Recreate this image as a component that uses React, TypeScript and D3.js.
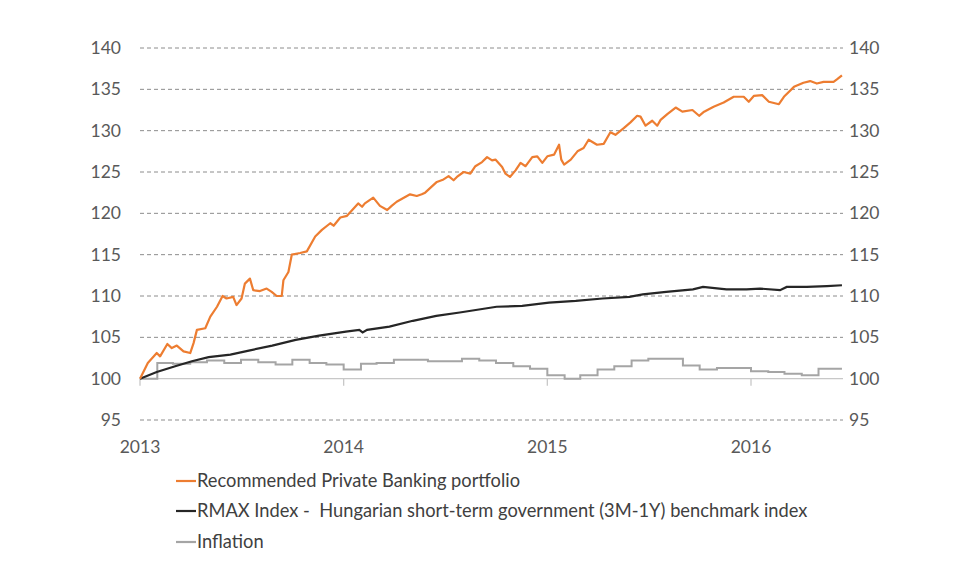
import React from "react";
import * as d3 from "d3";

const yTicks = [95, 100, 105, 110, 115, 120, 125, 130, 135, 140];
const yearTicks = ["2013-01-01", "2014-01-01", "2015-01-01", "2016-01-01"];
const yearLabels = ["2013", "2014", "2015", "2016"];

const seriesNames = [
  "Recommended Private Banking portfolio",
  "RMAX Index -  Hungarian short-term government (3M-1Y) benchmark index",
  "Inflation",
];

const portfolioDates = [
  "2013-01-01","2013-01-15","2013-01-31","2013-02-06","2013-02-19","2013-02-27","2013-03-08","2013-03-20",
  "2013-04-01","2013-04-07","2013-04-13","2013-04-28","2013-05-07","2013-05-19","2013-05-29","2013-06-05",
  "2013-06-17","2013-06-23","2013-07-02","2013-07-08","2013-07-17","2013-07-23","2013-08-04","2013-08-16",
  "2013-08-25","2013-09-03","2013-09-12","2013-09-15","2013-09-24","2013-09-30","2013-10-15","2013-10-27",
  "2013-11-11","2013-11-23","2013-12-08","2013-12-14","2013-12-26","2014-01-07","2014-01-27","2014-02-03",
  "2014-02-08","2014-02-23","2014-03-07","2014-03-20","2014-03-28","2014-04-06","2014-04-30","2014-05-12",
  "2014-05-21","2014-05-27","2014-06-17","2014-06-29","2014-07-08","2014-07-17","2014-07-23","2014-08-04",
  "2014-08-16","2014-08-25","2014-09-06","2014-09-15","2014-09-24","2014-09-30","2014-10-12","2014-10-18",
  "2014-10-26","2014-11-05","2014-11-14","2014-11-23","2014-12-05","2014-12-14","2014-12-23","2015-01-01",
  "2015-01-13","2015-01-22","2015-01-26","2015-01-31","2015-02-12","2015-02-24","2015-03-07","2015-03-16",
  "2015-03-31","2015-04-12","2015-04-24","2015-05-03","2015-05-18","2015-05-30","2015-06-11","2015-06-17",
  "2015-06-26","2015-07-08","2015-07-17","2015-07-23","2015-08-04","2015-08-19","2015-08-31","2015-09-18",
  "2015-09-30","2015-10-09","2015-10-26","2015-11-13","2015-12-01","2015-12-19","2015-12-28","2016-01-06",
  "2016-01-21","2016-02-02","2016-02-20","2016-02-29","2016-03-18","2016-04-04","2016-04-16","2016-04-28",
  "2016-05-10","2016-05-28","2016-06-03","2016-06-12",
];
const portfolioValues = [
  100.0, 101.9, 103.1, 102.7, 104.2, 103.7, 104.0, 103.3,
  103.1, 104.3, 105.9, 106.1, 107.5, 108.7, 110.0, 109.7,
  109.9, 108.9, 109.7, 111.5, 112.1, 110.7, 110.6, 110.9,
  110.5, 110.0, 110.0, 111.9, 112.9, 115.0, 115.2, 115.4,
  117.2, 118.0, 118.8, 118.5, 119.5, 119.7, 121.2, 120.8,
  121.2, 121.9, 120.9, 120.4, 120.9, 121.4, 122.3, 122.1,
  122.3, 122.5, 123.8, 124.1, 124.5, 124.0, 124.4, 125.0,
  124.8, 125.7, 126.2, 126.8, 126.4, 126.5, 125.6, 124.8,
  124.4, 125.2, 126.1, 125.7, 126.8, 126.9, 126.1, 126.9,
  127.1, 128.3, 126.5, 125.9, 126.5, 127.5, 127.9, 128.9,
  128.3, 128.4, 129.8, 129.5, 130.3, 131.0, 131.8, 131.7,
  130.6, 131.2, 130.6, 131.3, 132.0, 132.8, 132.3, 132.5,
  131.8, 132.3, 132.9, 133.4, 134.1, 134.1, 133.5, 134.2,
  134.3, 133.5, 133.2, 134.1, 135.3, 135.8, 136.0, 135.7,
  135.9, 135.9, 136.2, 136.7,
];

const rmaxDates = [
  "2013-01-01","2013-01-31","2013-03-05","2013-04-04","2013-05-04","2013-06-12","2013-07-15","2013-08-26",
  "2013-10-07","2013-11-18","2014-01-05","2014-01-29","2014-02-04","2014-02-12","2014-03-24","2014-05-05",
  "2014-06-16","2014-07-28","2014-10-02","2014-11-17","2015-01-04","2015-02-21","2015-04-10","2015-05-28",
  "2015-06-21","2015-08-02","2015-09-19","2015-10-07","2015-11-18","2015-12-24","2016-01-17","2016-02-22",
  "2016-03-05","2016-04-10","2016-05-16","2016-06-12",
];
const rmaxValues = [
  100.0, 100.8, 101.5, 102.1, 102.6, 102.9, 103.4, 104.0,
  104.7, 105.2, 105.7, 105.9, 105.6, 105.9, 106.3, 107.0,
  107.6, 108.0, 108.7, 108.8, 109.2, 109.4, 109.7, 109.9,
  110.2, 110.5, 110.8, 111.1, 110.8, 110.8, 110.9, 110.7,
  111.1, 111.1, 111.2, 111.3,
];

const inflationDates = [
  "2013-01-01","2013-02-01","2013-03-01","2013-04-01","2013-05-01","2013-06-01","2013-07-01","2013-08-01",
  "2013-09-01","2013-10-01","2013-11-01","2013-12-01","2014-01-01","2014-02-01","2014-03-01","2014-04-01",
  "2014-05-01","2014-06-01","2014-07-01","2014-08-01","2014-09-01","2014-10-01","2014-11-01","2014-12-01",
  "2015-01-01","2015-02-01","2015-03-01","2015-04-01","2015-05-01","2015-06-01","2015-07-01","2015-08-01",
  "2015-09-01","2015-10-01","2015-11-01","2015-12-01","2016-01-01","2016-02-01","2016-03-01","2016-04-01",
  "2016-05-01","2016-06-12",
];
const inflationValues = [
  100.0, 101.9, 101.8, 102.0, 102.2, 101.9, 102.3, 102.0,
  101.7, 102.3, 101.9, 101.7, 101.1, 101.8, 101.9, 102.3,
  102.3, 102.1, 102.1, 102.4, 102.2, 101.9, 101.5, 101.2,
  100.4, 100.0, 100.4, 101.1, 101.5, 102.2, 102.4, 102.4,
  101.6, 101.1, 101.3, 101.3, 100.9, 100.8, 100.6, 100.4,
  101.2, 101.2,
];

const FONT = "Lato, 'Open Sans', sans-serif";
const TEXT = "#595959";

type Pt = { d: Date; v: number };
const toPts = (ds: string[], vs: number[]): Pt[] =>
  ds.map((s, i) => ({ d: new Date(s + "T00:00:00Z"), v: vs[i] }));

export default function App() {
  const W = 977, H = 574;
  const left = 140, right = 843;
  const x = d3
    .scaleUtc()
    .domain([new Date("2013-01-01T00:00:00Z"), new Date("2016-01-01T00:00:00Z")])
    .range([140, 751]);
  const y = d3.scaleLinear().domain([95, 140]).range([420, 48]);

  const line = d3
    .line<Pt>()
    .x((p) => x(p.d))
    .y((p) => y(p.v));
  const stepLine = d3
    .line<Pt>()
    .x((p) => x(p.d))
    .y((p) => y(p.v))
    .curve(d3.curveStepAfter);

  const pf = toPts(portfolioDates, portfolioValues);
  const rm = toPts(rmaxDates, rmaxValues);
  const inf = toPts(inflationDates, inflationValues);

  const colors = ["#ED7D31", "#262626", "#A5A5A5"];
  const legendY = [481, 511, 542];

  return (
    <svg
      width={W}
      height={H}
      style={{ position: "absolute", left: 0, top: 0, background: "#fff" }}
      fontFamily={FONT}
    >
      {yTicks.map((t) =>
        t === 100 ? null : (
          <line
            key={"g" + t}
            x1={left}
            x2={right}
            y1={y(t)}
            y2={y(t)}
            stroke="#8c8c8c"
            strokeWidth={1}
            strokeDasharray="4,3"
          />
        )
      )}
      {yTicks.map((t) => (
        <text
          key={"l" + t}
          x={121}
          y={y(t)}
          dy="0.35em"
          textAnchor="end"
          fontSize={17.5}
          fill={TEXT}
        >
          {t}
        </text>
      ))}
      {yTicks.map((t) => (
        <text
          key={"r" + t}
          x={849}
          y={y(t)}
          dy="0.35em"
          textAnchor="start"
          fontSize={17.5}
          fill={TEXT}
        >
          {t}
        </text>
      ))}
      <line x1={left} x2={right} y1={y(100)} y2={y(100)} stroke="#c8c8c8" strokeWidth={1.3} />
      {yearTicks.map((s, i) => {
        const xv = x(new Date(s + "T00:00:00Z"));
        return (
          <g key={s}>
            <line x1={xv} x2={xv} y1={y(100)} y2={y(100) + 7} stroke="#c8c8c8" strokeWidth={1.3} />
            <text x={xv} y={447} dy="0.35em" textAnchor="middle" fontSize={17.5} fill={TEXT}>
              {yearLabels[i]}
            </text>
          </g>
        );
      })}
      <path d={stepLine(inf) || ""} fill="none" stroke={colors[2]} strokeWidth={2} />
      <path d={line(rm) || ""} fill="none" stroke={colors[1]} strokeWidth={2.2} />
      <path d={line(pf) || ""} fill="none" stroke={colors[0]} strokeWidth={2.2} strokeLinejoin="round" />
      {seriesNames.map((n, i) => (
        <g key={n}>
          <line x1={176} x2={196} y1={legendY[i]} y2={legendY[i]} stroke={colors[i]} strokeWidth={2.2} />
          <text
            x={197}
            y={legendY[i]}
            dy="0.35em"
            fontSize={18.3}
            fill="#404040"
            style={{ whiteSpace: "pre" }}
          >
            {n}
          </text>
        </g>
      ))}
    </svg>
  );
}
